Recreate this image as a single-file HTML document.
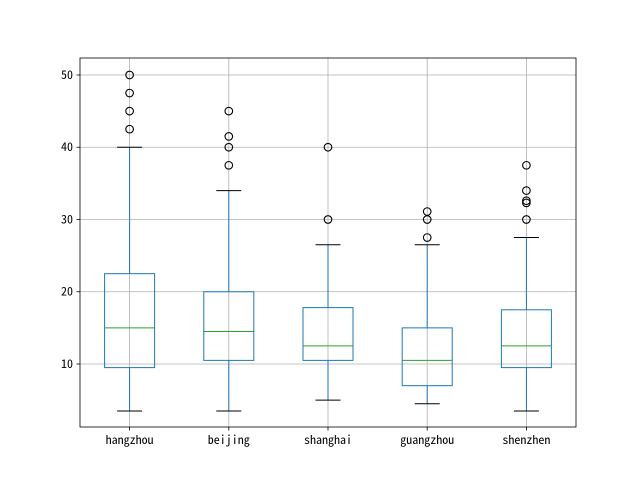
<!DOCTYPE html>
<html><head><meta charset="utf-8"><style>
body{margin:0;background:#fff;}
svg{display:block;font-family:"Noto Sans Mono CJK SC","WenQuanYi Zen Hei Mono","WenQuanYi Zen Hei","Noto Sans CJK SC",monospace;}
</style></head><body>
<svg id="chart" width="640" height="480"></svg>
<script>
const categories=["hangzhou","beijing","shanghai","guangzhou","shenzhen"];
const whisLo=[3.5,3.5,5,4.5,3.5];
const q1=[9.5,10.5,10.5,7,9.5];
const medians=[15,14.5,12.5,10.5,12.5];
const q3=[22.5,20,17.8,15,17.5];
const whisHi=[40,34,26.5,26.5,27.5];
const fliers=[[42.5,45,47.5,50],[37.5,40,41.5,45],[30,40],[27.5,30,31.1],[30,32.3,32.6,34,37.5]];
const yTicks=[10,20,30,40,50];

const L=80,R=576,T=58,B=427,ymin=1.28,ymax=52.35;
const NS="http://www.w3.org/2000/svg";
const svg=document.getElementById('chart');
const y=v=>B-(v-ymin)/(ymax-ymin)*(B-T);
const step=(R-L)/categories.length;
const x=i=>L+step*(i+0.5);
function mk(tag,attrs,parent){const e=document.createElementNS(NS,tag);for(const k in attrs)e.setAttribute(k,attrs[k]);(parent||svg).appendChild(e);return e;}
yTicks.forEach(t=>{
 const g=mk('line',{x1:L,x2:R,y1:y(t),y2:y(t),stroke:'#b0b0b0','stroke-width':0.8});
 
 
 mk('line',{x1:L-3.5,x2:L,y1:y(t),y2:y(t),stroke:'#000','stroke-width':0.8});
 const tx=mk('text',{x:L-7,y:y(t)+4,'text-anchor':'end','font-size':12,fill:'#000'});
 tx.textContent=t;
 
 
});
categories.forEach((c,i)=>{
 const g=mk('line',{x1:x(i),x2:x(i),y1:T,y2:B,stroke:'#b0b0b0','stroke-width':0.8});
 
 
 mk('line',{x1:x(i),x2:x(i),y1:B,y2:B+3.5,stroke:'#000','stroke-width':0.8});
 const tx=mk('text',{x:x(i),y:B+17,'text-anchor':'middle','font-size':12,fill:'#000'});
 tx.textContent=c;
 
 
});
categories.forEach((c,i)=>{
 const grp=mk('g',{});
 
 
 const cx=x(i),hw=25,cw=12.5;
 mk('line',{x1:cx,x2:cx,y1:y(whisLo[i]),y2:y(q1[i]),stroke:'#1f77b4','stroke-width':1},grp);
 mk('line',{x1:cx,x2:cx,y1:y(q3[i]),y2:y(whisHi[i]),stroke:'#1f77b4','stroke-width':1},grp);
 mk('line',{x1:cx-cw,x2:cx+cw,y1:y(whisLo[i]),y2:y(whisLo[i]),stroke:'#000','stroke-width':1},grp);
 mk('line',{x1:cx-cw,x2:cx+cw,y1:y(whisHi[i]),y2:y(whisHi[i]),stroke:'#000','stroke-width':1},grp);
 mk('rect',{x:cx-hw,y:y(q3[i]),width:2*hw,height:y(q1[i])-y(q3[i]),fill:'none',stroke:'#1f77b4','stroke-width':1},grp);
 mk('line',{x1:cx-hw,x2:cx+hw,y1:y(medians[i]),y2:y(medians[i]),stroke:'#2ca02c','stroke-width':1},grp);
 fliers[i].forEach(v=>{
  const f=mk('circle',{cx:cx,cy:y(v),r:3.8,fill:'none',stroke:'#000','stroke-width':1.1},grp);
  
  
 });
});
const fr=mk('rect',{x:L,y:T,width:R-L,height:B-T,fill:'none',stroke:'#000','stroke-width':0.8});


</script>
</body></html>
